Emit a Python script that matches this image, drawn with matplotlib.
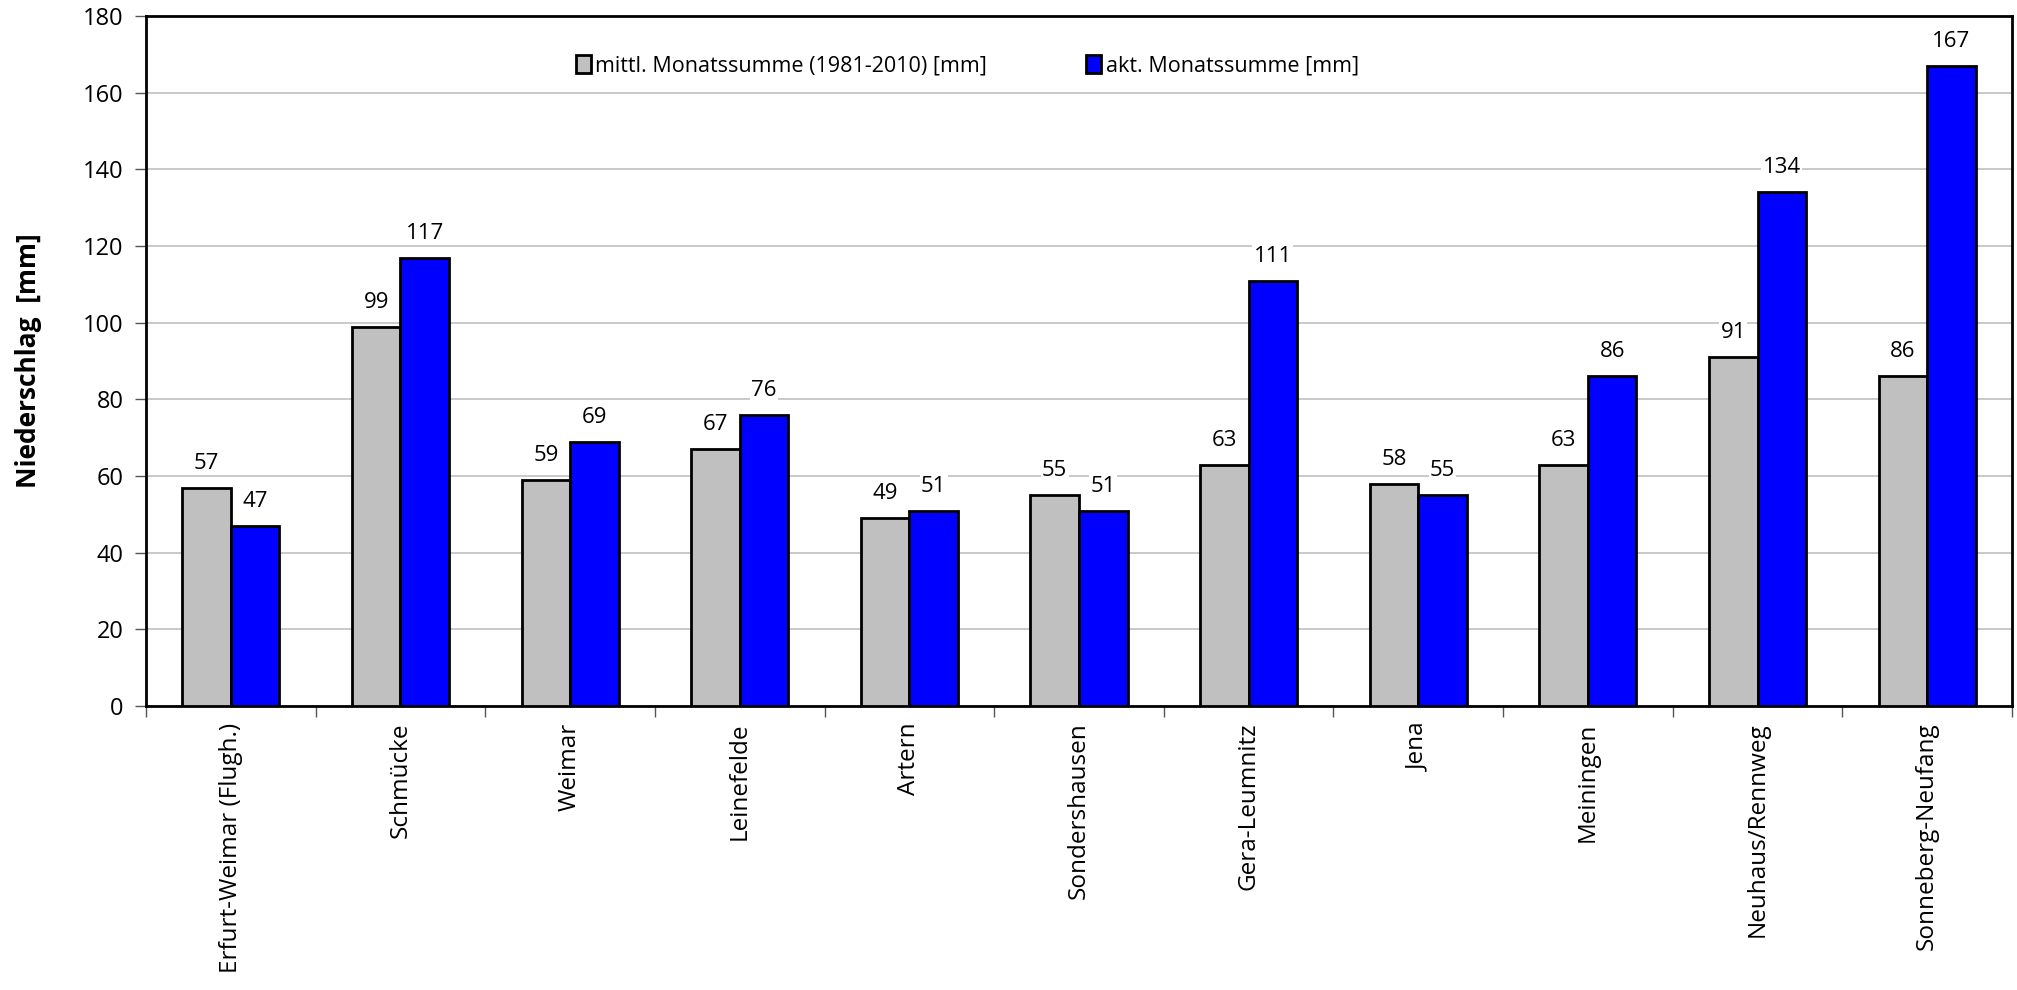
import matplotlib
matplotlib.use("Agg")
import matplotlib.pyplot as plt
import numpy as np

stations = ["Erfurt-Weimar (Flugh.)", "Schmücke", "Weimar", "Leinefelde", "Artern",
            "Sondershausen", "Gera-Leumnitz", "Jena", "Meiningen", "Neuhaus/Rennweg",
            "Sonneberg-Neufang"]
mean_vals = [57, 99, 59, 67, 49, 55, 63, 58, 63, 91, 86]
act_vals = [47, 117, 69, 76, 51, 51, 111, 55, 86, 134, 167]
series_names = ["mittl. Monatssumme (1981-2010) [mm]", "akt. Monatssumme [mm]"]
yticks = [0, 20, 40, 60, 80, 100, 120, 140, 160, 180]

plt.rcParams['font.family'] = ['Open Sans', 'DejaVu Sans']

fig = plt.figure(figsize=(20.17, 9.9), dpi=100)
ax = fig.add_axes([146/2017, 1-706/990, (2012-146)/2017, (706-16)/990])

x = np.arange(len(stations))
w = 0.286
b1 = ax.bar(x - w/2, mean_vals, w, color="#c0c0c0", edgecolor="black", linewidth=2, label=series_names[0], zorder=3)
b2 = ax.bar(x + w/2, act_vals, w, color="#0000ff", edgecolor="black", linewidth=2, label=series_names[1], zorder=3)

for bars in (b1, b2):
    for r in bars:
        ax.annotate(f"{int(r.get_height())}", (r.get_x() + r.get_width()/2, r.get_height()),
                    xytext=(0, 10), textcoords="offset points", ha="center", va="bottom",
                    fontsize=16, zorder=4,
                    bbox=dict(facecolor="white", edgecolor="none", pad=1))

ax.set_xlim(-0.5, len(stations) - 0.5)
ax.set_ylim(0, 180)
ax.set_yticks(yticks)
ax.set_yticklabels([str(t) for t in yticks], fontsize=17)
ax.yaxis.grid(True, color="#c0c0c0", linewidth=1.2, zorder=0)
ax.set_axisbelow(True)

ax.set_xticks(x)
ax.set_xticklabels(stations, rotation=90, fontsize=17.5, va="top")
ax.tick_params(axis="x", length=0, pad=12)
ax.set_xticks(np.arange(len(stations) + 1) - 0.5, minor=True)
ax.tick_params(axis="x", which="minor", length=8, width=1, color="#555555")
ax.tick_params(axis="y", length=8, width=1, color="#555555", pad=8)

for s in ax.spines.values():
    s.set_linewidth(2)
    s.set_color("black")

ax.set_ylabel("Niederschlag  [mm]", fontsize=19, fontweight="bold")
ax.yaxis.set_label_coords(-0.056, 0.5)

leg = ax.legend(loc="upper left", bbox_to_anchor=(0.22, 0.972), ncol=2, frameon=False,
                fontsize=15.5, handlelength=0.7, handleheight=0.9, handletextpad=0.2,
                columnspacing=4.6)

fig.savefig("out.png", dpi=100)
